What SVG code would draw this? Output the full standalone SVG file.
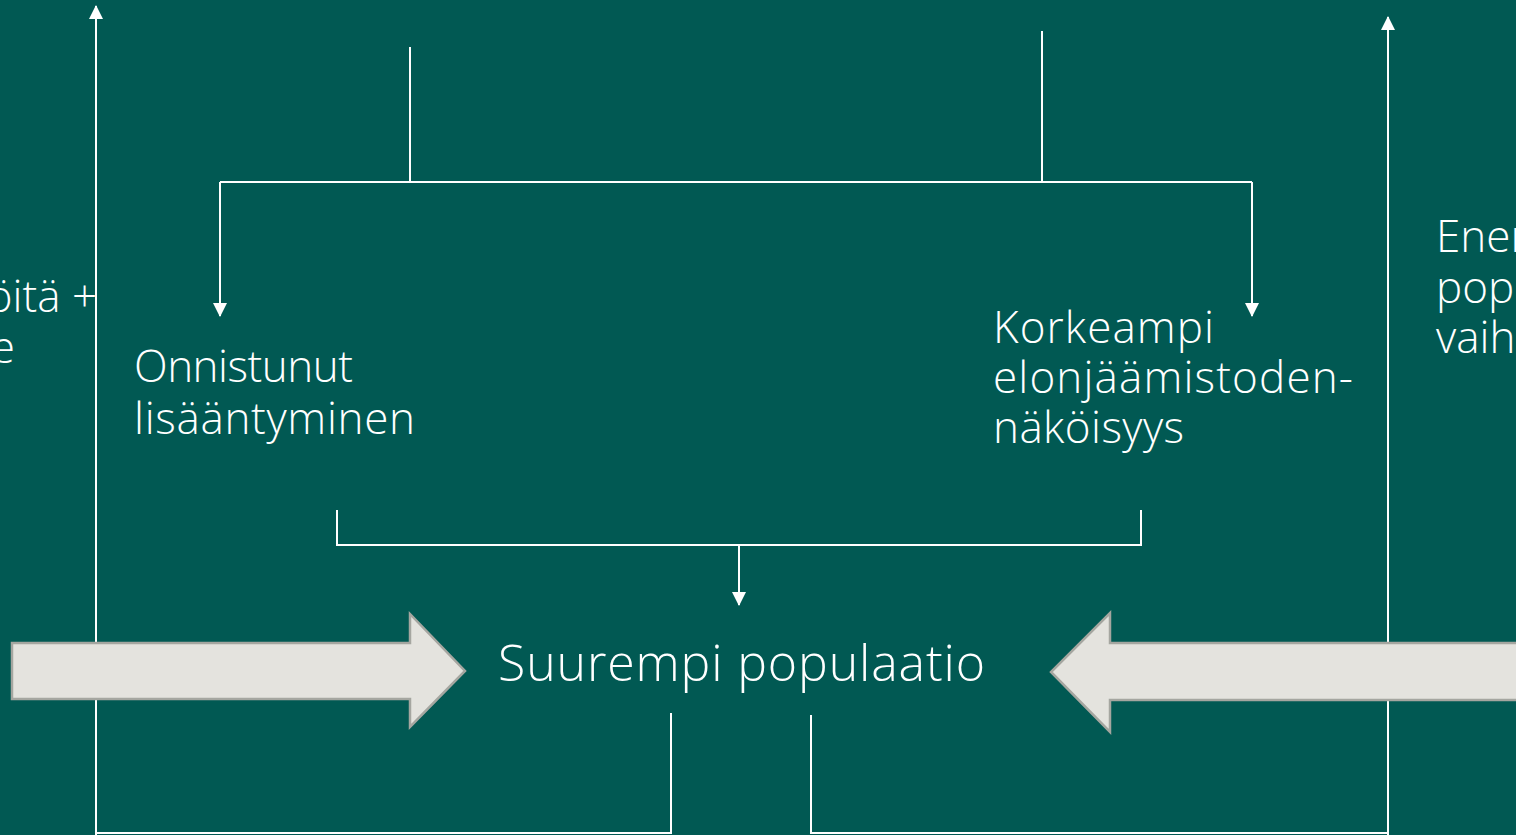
<svg xmlns="http://www.w3.org/2000/svg" width="1516" height="835" viewBox="0 0 1516 835">
<defs>
<style>
.bg{fill:#015953}
.ln{fill:none;stroke:#ffffff;stroke-width:2}
.big{fill:#E4E3DE;stroke:#A5A6A0;stroke-width:2.5}
.t{font-family:"Open Sans","Liberation Sans",sans-serif;font-weight:300;fill:#ffffff}
.t44{font-size:44px}
.t50{font-size:50px}
</style>
<marker id="ah" viewBox="0 0 14 16" refX="13" refY="7" markerWidth="14" markerHeight="16" markerUnits="userSpaceOnUse" orient="auto">
<path d="M0,0 L14,7 L0,14 Z" fill="#ffffff"/>
</marker>
</defs>
<rect class="bg" x="0" y="0" width="1516" height="835"/>
<g id="connectors">
<path class="ln" d="M96,835 V6" marker-end="url(#ah)"/>
<path class="ln" d="M1388,835 V17" marker-end="url(#ah)"/>
<path class="ln" d="M410,47 V182"/>
<path class="ln" d="M1042,31 V182"/>
<path class="ln" d="M220,182 H1252"/>
<path class="ln" d="M220,182 V316" marker-end="url(#ah)"/>
<path class="ln" d="M1252,182 V316" marker-end="url(#ah)"/>
<path class="ln" d="M337,510 V545 H1141 V510"/>
<path class="ln" d="M739,545 V605" marker-end="url(#ah)"/>
<path class="ln" d="M671,713 V833 H96"/>
<path class="ln" d="M811,715 V833 H1388"/>
</g>
<g id="arrow-left">
<path class="big" d="M12,643 H410 V614 L465,671 L410,727 V699 H12 Z"/>
</g>
<g id="arrow-right">
<path class="big" d="M1530,643 H1110 V613 L1051,672 L1110,732 V700 H1530 Z"/>
</g>
<g id="node-left-cut">
<text class="t t44" x="97" y="312" text-anchor="end">öitä +</text>
<text class="t t44" x="15" y="363" text-anchor="end">e</text>
</g>
<g id="node-right-cut">
<text class="t t44" x="1436" y="252">Ener</text>
<text class="t t44" x="1436" y="303">pop</text>
<text class="t t44" x="1436" y="353">vaih</text>
</g>
<g id="node-onnistunut">
<text class="t t44" x="134" y="382" textLength="219">Onnistunut</text>
<text class="t t44" x="134" y="434" textLength="281">lisääntyminen</text>
</g>
<g id="node-korkeampi">
<text class="t t44" x="993" y="343" textLength="221">Korkeampi</text>
<text class="t t44" x="993" y="393" textLength="360">elonjäämistoden-</text>
<text class="t t44" x="993" y="443" textLength="191">näköisyys</text>
</g>
<g id="node-suurempi">
<text class="t t50" x="498" y="681" textLength="487">Suurempi populaatio</text>
</g>
</svg>
